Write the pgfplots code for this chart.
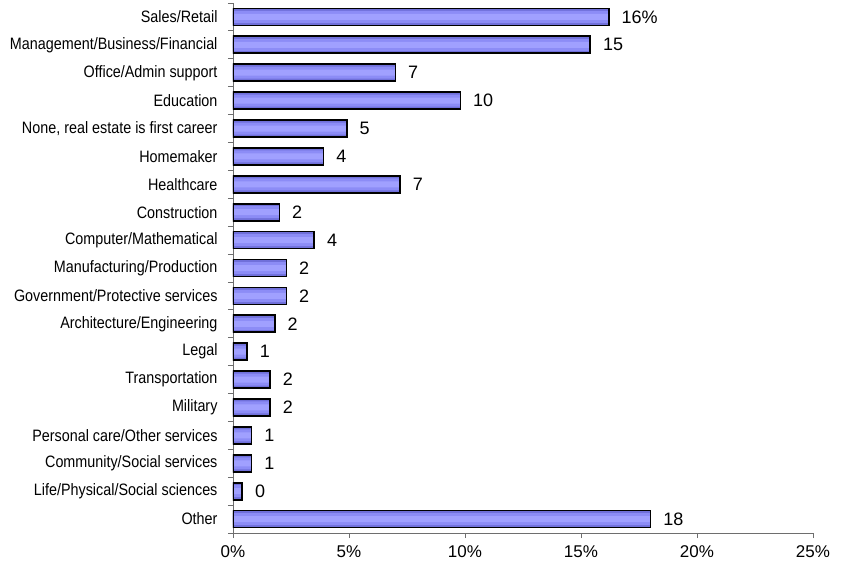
\documentclass[border=0pt]{standalone}
\usepackage{pgfplots}
\usepackage{pgfplotstable}
\pgfplotsset{compat=1.18}
\usepackage{fontspec}
\setmainfont{Liberation Sans}
\newfontfamily\narrowfont[FakeStretch=0.87]{Liberation Sans}
\definecolor{baredge}{RGB}{112,112,218}
\definecolor{barmid}{RGB}{140,140,246}
\definecolor{barlight}{RGB}{160,160,255}
\definecolor{axisgray}{RGB}{110,110,110}

% share of agents by previous career (%)
\pgfplotstableread{
pos value label
0  16.2  16\%
1  15.4  15
2  7.0   7
3  9.8   10
4  4.9   5
5  3.9   4
6  7.2   7
7  2.0   2
8  3.5   4
9  2.3   2
10 2.3   2
11 1.8   2
12 0.6   1
13 1.6   2
14 1.6   2
15 0.8   1
16 0.8   1
17 0.4   0
18 18.0  18
}\careers

\begin{document}
\begin{tikzpicture}
\begin{axis}[
    scale only axis,
    width=580pt, height=530pt,
    xbar, bar shift=0pt,
    xmin=0, xmax=25,
    ymin=-0.5, ymax=18.5,
    y dir=reverse,
    axis lines*=left,
    axis line style={axisgray, line width=0.9pt},
    tick align=outside,
    major tick length=5pt, minor tick length=5pt,
    every tick/.style={axisgray, line width=0.9pt},
    xtick={0,5,...,25},
    xticklabel={\pgfmathprintnumber{\tick}\%},
    /pgf/number format/assume math mode=true,
    xticklabel style={font=\fontsize{17}{17}\selectfont, yshift=-4pt},
    ytick={0,...,18},
    major y tick style={draw=none},
    minor ytick={-0.5,0.5,...,18.5},
    yticklabels={Sales/Retail, Management/Business/Financial, Office/Admin support,
        Education, {None, real estate is first career}, Homemaker, Healthcare,
        Construction, Computer/Mathematical, Manufacturing/Production,
        Government/Protective services, Architecture/Engineering, Legal,
        Transportation, Military, Personal care/Other services,
        Community/Social services, Life/Physical/Social sciences, Other},
    yticklabel style={font=\narrowfont\fontsize{16.5}{16.5}\selectfont, xshift=-7pt},
]
\addplot[fill=baredge, draw=none, bar width=17pt] table[x=value, y=pos] {\careers};
\addplot[fill=barmid, draw=none, bar width=12pt] table[x=value, y=pos] {\careers};
\addplot[fill=barlight, draw=none, bar width=6pt] table[x=value, y=pos] {\careers};
\addplot[draw=black, fill=none, line width=1.7pt, bar width=17pt,
    nodes near coords, point meta=explicit symbolic,
    nodes near coords style={font=\fontsize{18}{18}\selectfont, black, anchor=west, inner sep=0pt, xshift=12pt}]
    table[x=value, y=pos, meta=label] {\careers};
\end{axis}
\pgfresetboundingbox
\path[use as bounding box] ([shift={(-233pt,-32pt)}]current axis.south west)
    rectangle ([shift={(613pt,533pt)}]current axis.south west);
\end{tikzpicture}
\end{document}
